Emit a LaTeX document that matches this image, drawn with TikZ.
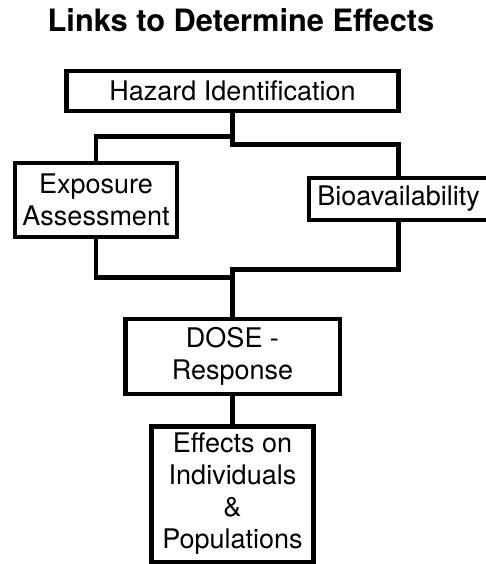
\documentclass[tikz,border=0pt]{standalone}
\usepackage{fontspec}
\setmainfont{TeX Gyre Heros}
\begin{document}
\begin{tikzpicture}[x=1pt,y=-1pt,
  box/.style={draw=black, line width=4.5pt, fill=white, align=center,
    inner sep=0pt, font=\fontsize{27}{32}\selectfont},
  link/.style={draw=black, line width=4.5pt, line join=miter}]
\useasboundingbox (0,0) rectangle (486,564);
\fill[white] (0,0) rectangle (486,564);

% title
\node[font=\bfseries\fontsize{30.8}{36}\selectfont, anchor=base] (title) at (241,31.7)
  {Links to Determine Effects};

% boxes
\node[box, minimum width=332pt, minimum height=40pt] (haz) at (232.5,91)
  {Hazard Identification};
\node[box, minimum width=162pt, minimum height=74pt] (exp) at (96,200)
  {Exposure\\Assessment};
\node[box, minimum width=179pt, minimum height=42pt] (bio) at (398.5,199)
  {Bioavailability};
\node[box, minimum width=214.5pt, minimum height=75pt] (dose) at (232.5,356.5)
  {DOSE -\\Response};
\node[box, minimum width=162pt, minimum height=135.5pt] (eff) at (232.5,494)
  {Effects on\\Individuals\\\&\\Populations};

% junction points on the central trunk
\coordinate (hl) at (232.5,136.5);
\coordinate (hr) at (232.5,144.5);
\coordinate (ll) at (232.5,277.5);
\coordinate (lr) at (232.5,269.5);

% connectors
\draw[link] (haz.south) -- (hr) -| (bio.north);
\draw[link] (exp.north) |- (hl);
\draw[link] (exp.south) |- (ll);
\draw[link] (bio.south) |- (lr) -- (dose.north);
\draw[link] (dose.south) -- (eff.north);
\end{tikzpicture}
\end{document}
